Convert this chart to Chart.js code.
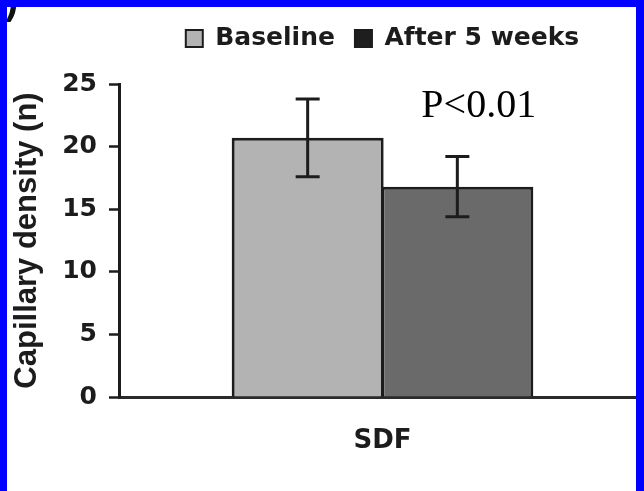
<!DOCTYPE html>
<html>
<head>
<meta charset="utf-8">
<script src="https://cdn.jsdelivr.net/npm/chart.js@4/dist/chart.umd.min.js"></script>
<style>
  html, body { margin: 0; padding: 0; background: #ffffff; overflow: hidden; }
  #wrap { position: relative; width: 644px; height: 491px; overflow: hidden; background: #fff; }
  #box { position: absolute; left: 0; top: 0; width: 650px; height: 491px; }
  .frame { position: absolute; background: #0000ff; z-index: 5; }
</style>
</head>
<body>
<div id="wrap">
  <div id="box"><canvas id="c"></canvas></div>
  <div class="frame" style="left:0;top:0;width:644px;height:7px;"></div>
  <div class="frame" style="left:0;top:0;width:7px;height:491px;"></div>
  <div class="frame" style="left:636px;top:0;width:8px;height:491px;"></div>
</div>
<script>
// ---- data ----
const categories = ['SDF'];
const seriesNames = ['Baseline', 'After 5 weeks'];
const baselineValues = [20.7];
const baselineErrors = [3.1];
const afterValues = [16.8];
const afterErrors = [2.4];
const yTickValues = [0, 5, 10, 15, 20, 25];
const yAxisTitle = 'Capillary density (n)';
const annotationText = 'P<0.01';
const annotationValue = 22.4;
const panelLabel = ')';

// ---- styles ----
const barFills = ['rgb(179,179,179)', 'rgb(106,106,106)'];
const legendFills = ['rgb(179,179,179)', 'rgb(30,30,30)'];
const ink = '#1c1c1c';
const errorsBySeries = [baselineErrors, afterErrors];

const legendGap = {
  id: 'legendGap',
  afterInit(chart) {
    const lg = chart.legend;
    if (!lg) return;
    const orig = lg.fit.bind(lg);
    lg.fit = function () { orig(); this.height += 23; };
  }
};

const errorBars = {
  id: 'errorBars',
  afterDatasetsDraw(chart) {
    const ctx = chart.ctx;
    const y = chart.scales.y;
    ctx.save();
    ctx.strokeStyle = ink;
    ctx.lineWidth = 3;
    chart.data.datasets.forEach((ds, i) => {
      const meta = chart.getDatasetMeta(i);
      meta.data.forEach((el, j) => {
        const v = ds.data[j], e = errorsBySeries[i][j];
        const yt = y.getPixelForValue(v + e), yb = y.getPixelForValue(v - e);
        const x = el.x, hw = 12;
        ctx.beginPath();
        ctx.moveTo(x, yt); ctx.lineTo(x, yb);
        ctx.moveTo(x - hw, yt); ctx.lineTo(x + hw, yt);
        ctx.moveTo(x - hw, yb); ctx.lineTo(x + hw, yb);
        ctx.stroke();
      });
    });
    ctx.restore();
  }
};

const annotations = {
  id: 'annotations',
  afterDraw(chart) {
    const ctx = chart.ctx;
    const y = chart.scales.y;
    const el = chart.getDatasetMeta(1).data[0];
    ctx.save();
    ctx.fillStyle = '#000';
    ctx.font = '40px "Liberation Serif", "Times New Roman", serif';
    ctx.textAlign = 'left';
    ctx.textBaseline = 'alphabetic';
    ctx.fillText(annotationText, el.x - 36, y.getPixelForValue(annotationValue));
    ctx.font = 'bold 40px "Liberation Sans", Arial, sans-serif';
    ctx.fillStyle = '#111';
    ctx.fillText(panelLabel, 5, 14);
    ctx.restore();
  }
};

new Chart(document.getElementById('c'), {
  type: 'bar',
  data: {
    labels: categories,
    datasets: [
      { label: seriesNames[0], data: baselineValues, backgroundColor: barFills[0],
        borderColor: ink, borderWidth: 3, categoryPercentage: 0.568, barPercentage: 1.0154 },
      { label: seriesNames[1], data: afterValues, backgroundColor: barFills[1],
        borderColor: ink, borderWidth: 3, categoryPercentage: 0.568, barPercentage: 1.0154 }
    ]
  },
  options: {
    responsive: true,
    maintainAspectRatio: false,
    animation: false,
    events: [],
    layout: { padding: { top: 6, left: 0, right: 4, bottom: 0 } },
    plugins: {
      tooltip: { enabled: false },
      legend: {
        display: true,
        position: 'top',
        fullSize: false,
        labels: {
          boxWidth: 17, boxHeight: 17, padding: 20,
          color: ink,
          font: { family: '"DejaVu Sans", sans-serif', size: 25, weight: 'bold' },
          generateLabels: (chart) => chart.data.datasets.map((ds, i) => ({
            text: ds.label, fillStyle: legendFills[i], strokeStyle: ink,
            lineWidth: 2, hidden: false, datasetIndex: i, fontColor: ink
          }))
        }
      }
    },
    scales: {
      x: {
        grid: { display: false, drawTicks: false, tickLength: 0 },
        border: { display: true, color: '#2a2a2a', width: 3 },
        ticks: { color: ink, padding: 29,
          font: { family: '"DejaVu Sans", sans-serif', size: 26, weight: 'bold' } },
        afterFit: (s) => { s.height = 94; }
      },
      y: {
        min: yTickValues[0],
        max: yTickValues[yTickValues.length - 1],
        afterBuildTicks: (s) => { s.ticks = yTickValues.map(v => ({ value: v })); },
        grid: { display: true, drawOnChartArea: false, drawTicks: true, tickLength: 10,
          tickColor: ink, tickWidth: 2.5 },
        border: { display: true, color: ink, width: 3 },
        ticks: { color: ink, padding: 12,
          font: { family: '"DejaVu Sans", sans-serif', size: 25, weight: 'bold' } },
        title: { display: true, text: yAxisTitle, color: ink,
          padding: { top: 9, bottom: 0 },
          font: { family: '"Liberation Sans", Arial, sans-serif', size: 31, weight: 'bold' } },
        afterFit: (s) => { s.width = 119; }
      }
    }
  },
  plugins: [legendGap, errorBars, annotations]
});
</script>
</body>
</html>
